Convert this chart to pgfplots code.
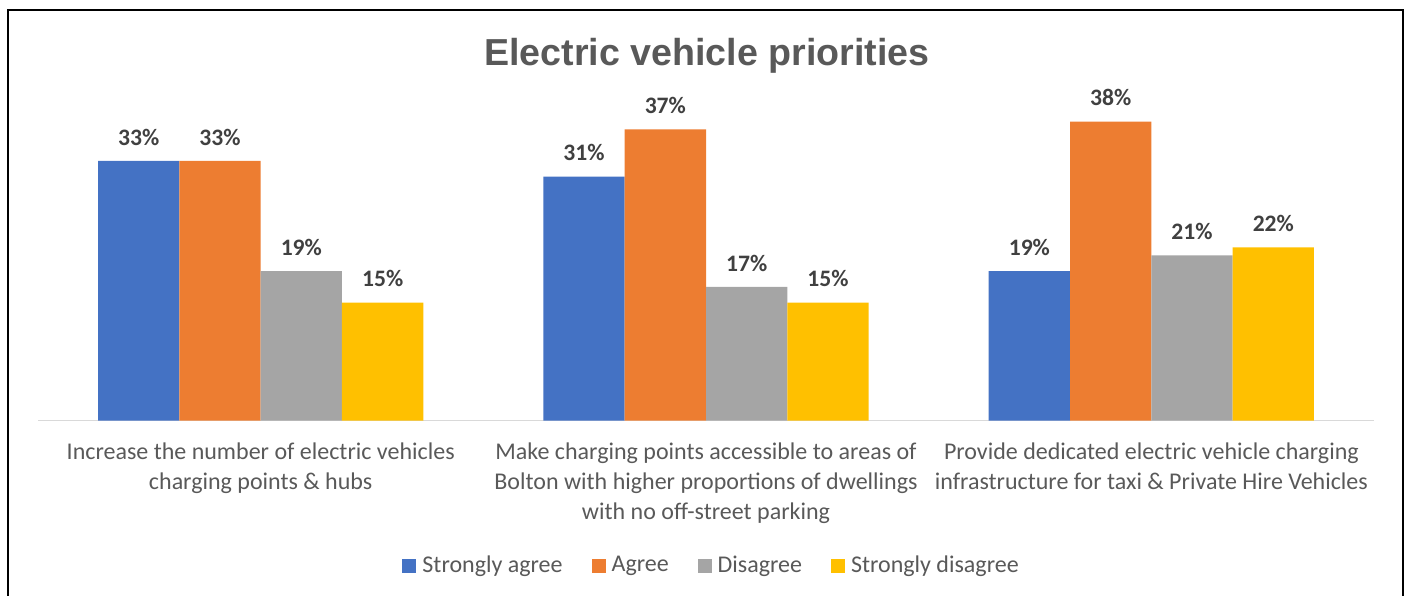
\documentclass[border=0pt]{standalone}
\usepackage{pgfplots}
\pgfplotsset{compat=1.18}
\usepackage{fontspec}
\setmainfont{Carlito}
\newfontfamily\titlefont{Liberation Sans}
\definecolor{cblue}{HTML}{4472C4}
\definecolor{corange}{HTML}{ED7D31}
\definecolor{cgrey}{HTML}{A5A5A5}
\definecolor{cyellow}{HTML}{FFC000}
\definecolor{ctext}{HTML}{595959}
\definecolor{clabel}{HTML}{404040}
\definecolor{caxis}{HTML}{D9D9D9}

\begin{document}
\begin{tikzpicture}
\useasboundingbox (0pt,0pt) rectangle (704pt,297.5pt);
\begin{scope}
\clip (0pt,0pt) rectangle (704pt,297.5pt);
\draw[line width=1pt] (4pt,-5pt) rectangle (701.5pt,292.5pt);
\end{scope}
\node[anchor=base, font=\titlefont\bfseries\fontsize{18.8}{22}\selectfont, text=ctext] at (353.5pt,264.5pt) {Electric vehicle priorities};
\begin{axis}[
  at={(19pt,87.2pt)}, anchor=south west,
  scale only axis, width=668pt, height=157.4pt,
  xmin=-0.5, xmax=2.5, ymin=0, ymax=40,
  axis y line=none, axis x line=bottom,
  x axis line style={draw=caxis, line width=0.75pt, -},
  xtick={0,1,2}, major tick length=0pt,
  xticklabels={{Increase the number of electric vehicles\\charging points \& hubs}, {Make charging points accessible to areas of\\Bolton with higher proportions of dwellings\\with no off-street parking}, {Provide dedicated electric vehicle charging\\infrastructure for taxi \& Private Hire Vehicles}},
  xticklabel style={align=center, anchor=north, inner sep=0pt, yshift=-11pt, font=\fontsize{12}{15}\selectfont, text=ctext},
  ybar=0pt, bar width=0.1826,
  nodes near coords={\pgfmathprintnumber{\pgfplotspointmeta}\%},
  every node near coord/.append style={font=\bfseries\fontsize{11.8}{14}\selectfont, text=clabel, inner sep=0pt, yshift=7.6pt, anchor=south},
  /pgf/number format/assume math mode=true,
  legend columns=4,
  legend image code/.code={\fill[#1] (0pt,-3.5pt) rectangle (7pt,3.5pt);},
  legend style={at={(0.2725,-0.461)}, anchor=west, draw=none, inner sep=0pt, nodes={inner sep=0pt, text=ctext, font=\fontsize{12}{15}\selectfont}, /tikz/every even column/.append style={column sep=14.5pt}, /tikz/every odd column/.append style={column sep=3pt}},
]
\addplot[fill=cblue, draw=none, bar shift=-0.2739] coordinates {(0,33) (1,31) (2,19)};
\addplot[fill=corange, draw=none, bar shift=-0.0913] coordinates {(0,33) (1,37) (2,38)};
\addplot[fill=cgrey, draw=none, bar shift=0.0913] coordinates {(0,19) (1,17) (2,21)};
\addplot[fill=cyellow, draw=none, bar shift=0.2739] coordinates {(0,15) (1,15) (2,22)};
\legend{Strongly agree, Agree, Disagree, Strongly disagree}
\end{axis}
\end{tikzpicture}
\end{document}
